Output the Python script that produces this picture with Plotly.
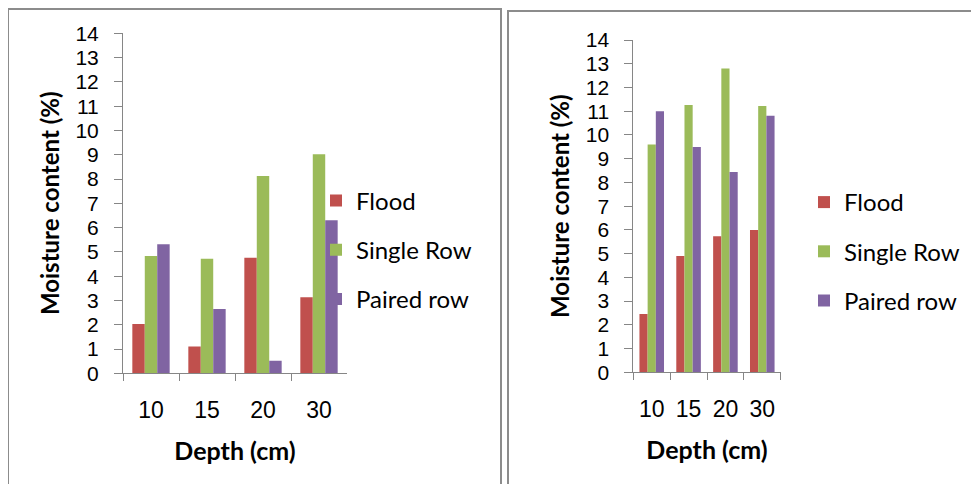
import plotly.graph_objects as go

depths = ["10", "15", "20", "30"]
series_names = ["Flood", "Single Row", "Paired row"]
left_flood = [2.03, 1.10, 4.76, 3.13]
left_single = [4.83, 4.72, 8.12, 9.02]
left_paired = [5.31, 2.65, 0.52, 6.30]
right_flood = [2.46, 4.90, 5.73, 5.99]
right_single = [9.60, 11.26, 12.80, 11.22]
right_paired = [11.00, 9.49, 8.44, 10.81]
colors = ["#C0504D", "#9BBB59", "#8064A2"]

# page body has an 8px default margin: figure fits inside it
OFF = 8
W, H = 979 - 2 * OFF, 492 - 2 * OFF
FONT = "Lato"
TICKFONT = "Liberation Sans"
AX = "#868686"


def px(x):
    return (x - OFF) / W


def py(y):
    return 1 - (y - OFF) / H


fig = go.Figure()
left_vals = [left_flood, left_single, left_paired]
right_vals = [right_flood, right_single, right_paired]
for i, name in enumerate(series_names):
    fig.add_trace(go.Bar(x=depths, y=left_vals[i], name=name, marker_color=colors[i],
                         marker_line_width=0, xaxis="x", yaxis="y",
                         legend="legend", legendgroup="l" + str(i)))
for i, name in enumerate(series_names):
    fig.add_trace(go.Bar(x=depths, y=right_vals[i], name=name, marker_color=colors[i],
                         marker_line_width=0, xaxis="x2", yaxis="y2",
                         legend="legend2", legendgroup="r" + str(i)))


def xa(dom, anchor):
    return dict(domain=dom, anchor=anchor, type="category", showline=True, linecolor=AX,
                linewidth=1, ticks="outside", tickson="boundaries", ticklen=7, tickcolor=AX,
                tickfont=dict(family=TICKFONT, size=23, color="black"), ticklabelstandoff=16,
                showgrid=False, zeroline=False, automargin=False,
                title=dict(text="<b>Depth (cm)</b>", font=dict(family=FONT, size=25, color="black"),
                           standoff=20))


def ya(dom, anchor):
    return dict(domain=dom, anchor=anchor, range=[0, 14], dtick=1, showline=True, linecolor=AX,
                linewidth=1, ticks="outside", ticklen=8, tickcolor=AX,
                tickfont=dict(family=TICKFONT, size=21, color="black"), ticklabelstandoff=11,
                showgrid=False, zeroline=False, automargin=False,
                title=dict(text="<b>Moisture content (%)</b>",
                           font=dict(family=FONT, size=24, color="black"), standoff=9))


legfont = dict(family=FONT, size=24, color="black")
fig.update_layout(
    width=W, height=H, margin=dict(l=0, r=0, t=0, b=0, autoexpand=False),
    paper_bgcolor="white", plot_bgcolor="white",
    barmode="group", bargap=1 / 3, bargroupgap=0,
    xaxis=xa([px(123), px(347)], "y"),
    yaxis=ya([py(373.3), py(33.3)], "x"),
    xaxis2=xa([px(633.3), px(780.7)], "y2"),
    yaxis2=ya([py(372.3), py(40)], "x2"),
    legend=dict(x=px(357 - 41), xanchor="left", y=py(250), yanchor="middle",
                font=legfont, traceorder="grouped", tracegroupgap=15,
                bgcolor="rgba(0,0,0,0)"),
    legend2=dict(x=px(845 - 41), xanchor="left", y=py(251.5), yanchor="middle",
                 font=legfont, traceorder="grouped", tracegroupgap=15,
                 bgcolor="rgba(0,0,0,0)"),
    shapes=[
        dict(type="rect", xref="paper", yref="paper", x0=px(8), x1=px(501), y0=-0.2, y1=py(9),
             line=dict(color="#8C8C8C", width=2), layer="below"),
        dict(type="rect", xref="paper", yref="paper", x0=px(508), x1=1.2, y0=-0.2, y1=py(11),
             line=dict(color="#8C8C8C", width=2), layer="below"),
    ],
)

fig.write_html("out.html")
